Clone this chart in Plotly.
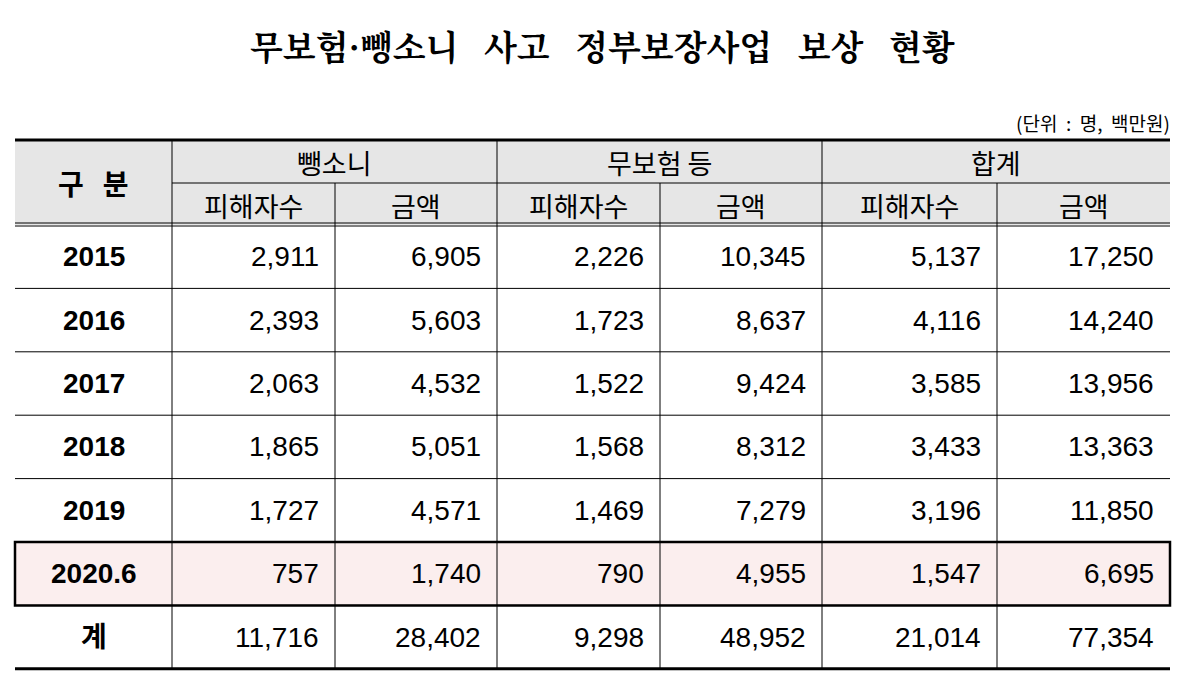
import plotly.graph_objects as go

title = '무보험·뺑소니 사고 정부보장사업 보상 현황'
unit = '(단위 : 명, 백만원)'
groups = ['뺑소니', '무보험 등', '합계']
subheads = ['피해자수', '금액']
years = ['2015', '2016', '2017', '2018', '2019', '2020.6', '계']
hit_people = [2911, 2393, 2063, 1865, 1727, 757, 11716]
hit_amount = [6905, 5603, 4532, 5051, 4571, 1740, 28402]
unins_people = [2226, 1723, 1522, 1568, 1469, 790, 9298]
unins_amount = [10345, 8637, 9424, 8312, 7279, 4955, 48952]
tot_people = [5137, 4116, 3585, 3433, 3196, 1547, 21014]
tot_amount = [17250, 14240, 13956, 13363, 11850, 6695, 77354]

cols = [hit_people, hit_amount, unins_people, unins_amount, tot_people, tot_amount]
xs = [15, 172, 335, 497, 660, 822, 997, 1170]
top, h1, h2 = 140, 183, 225
row_h = 63.4
highlight = 5

fig = go.Figure()
shapes = []
ann = []
line = dict(color='black', width=1)

# header background
shapes.append(dict(type='rect', x0=xs[0], x1=xs[-1], y0=top, y1=h2, fillcolor='#e6e6e6', line_width=0, layer='below'))
# highlighted row
hy0 = h2 + highlight * row_h
shapes.append(dict(type='rect', x0=xs[0], x1=xs[-1], y0=hy0, y1=hy0 + row_h, fillcolor='#fbeeee', line_width=0, layer='below'))

bottom = h2 + len(years) * row_h
# horizontal lines
shapes.append(dict(type='line', x0=xs[0], x1=xs[-1], y0=top, y1=top, line=dict(color='black', width=3)))
shapes.append(dict(type='line', x0=xs[1], x1=xs[-1], y0=h1, y1=h1, line=line))
shapes.append(dict(type='line', x0=xs[0], x1=xs[-1], y0=h2 - 2, y1=h2 - 2, line=line))
shapes.append(dict(type='line', x0=xs[0], x1=xs[-1], y0=h2 + 1, y1=h2 + 1, line=line))
for i in range(1, len(years)):
    y = h2 + i * row_h
    shapes.append(dict(type='line', x0=xs[0], x1=xs[-1], y0=y, y1=y, line=line))
shapes.append(dict(type='line', x0=xs[0], x1=xs[-1], y0=bottom, y1=bottom, line=dict(color='black', width=3)))
# vertical lines
for i, x in enumerate(xs[1:-1], start=1):
    y0 = top if i % 2 == 1 else h1
    shapes.append(dict(type='line', x0=x, x1=x, y0=y0, y1=bottom, line=line))
# highlight box
shapes.append(dict(type='rect', x0=xs[0], x1=xs[-1], y0=hy0, y1=hy0 + row_h, line=dict(color='black', width=2.5)))

font = dict(family='Noto Sans CJK KR', size=27, color='black')
spaced_title = title.replace(' ', '\u00a0\u00a0\u00a0')
ann.append(dict(x=602, y=45, text='<b>' + spaced_title + '</b>', showarrow=False,
                font=dict(family='Noto Serif CJK KR, Noto Sans CJK KR', size=34, color='black')))
ann.append(dict(x=1172, y=122, text=unit.replace(' ', '\u00a0 '), showarrow=False, xanchor='right',
                font=dict(family='Noto Sans CJK KR', size=19, color='black')))
ann.append(dict(x=(xs[0] + xs[1]) / 2, y=(top + h2) / 2, text='<b>구\u00a0\u00a0\u00a0분</b>', showarrow=False,
                font=dict(family='Noto Sans CJK KR', size=28, color='black')))
for g, name in enumerate(groups):
    ann.append(dict(x=(xs[1 + 2 * g] + xs[3 + 2 * g]) / 2, y=(top + h1) / 2 + 1, text=name, showarrow=False, font=font))
    for s, sub in enumerate(subheads):
        c = 1 + 2 * g + s
        ann.append(dict(x=(xs[c] + xs[c + 1]) / 2, y=(h1 + h2) / 2 + 1, text=sub, showarrow=False, font=font))

num_font = dict(family='Liberation Sans', size=28, color='black')
for r, yr in enumerate(years):
    yc = h2 + (r + 0.5) * row_h
    ann.append(dict(x=(xs[0] + xs[1]) / 2, y=yc, text='<b>' + yr + '</b>', showarrow=False,
                    font=dict(family='Liberation Sans, Noto Sans CJK KR', size=28, color='black')))
    for c, vals in enumerate(cols):
        ann.append(dict(x=xs[c + 2] - 14, y=yc, text=f'{vals[r]:,}', showarrow=False, xanchor='right', font=num_font))

# offset ranges by 8px to cancel the page's default body margin
fig.update_layout(shapes=shapes, annotations=ann, width=1187, height=687,
                  margin=dict(l=0, r=0, t=0, b=0), plot_bgcolor='white', paper_bgcolor='white',
                  xaxis=dict(range=[8, 1195], visible=False, fixedrange=True),
                  yaxis=dict(range=[695, 8], visible=False, fixedrange=True),
                  showlegend=False)
fig.write_html('out.html')
